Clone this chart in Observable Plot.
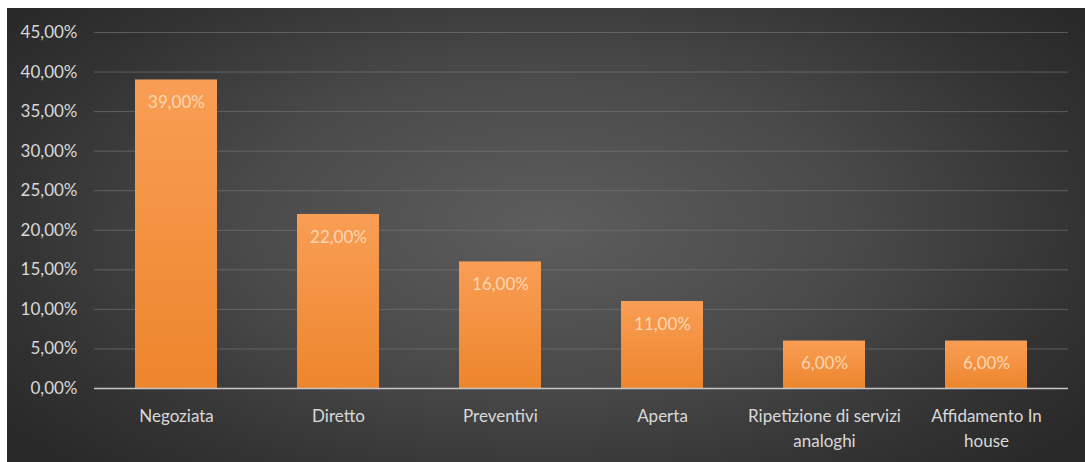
<!DOCTYPE html>
<html>
<head>
<meta charset="utf-8">
<script src="https://cdn.jsdelivr.net/npm/d3@7"></script>
<script src="https://cdn.jsdelivr.net/npm/@observablehq/plot@0.6"></script>
<style>
  html, body { margin: 0; padding: 0; background: #ffffff; }
  #frame {
    position: absolute; left: 7px; top: 8px; width: 1078px; height: 454px;
    background: radial-gradient(ellipse 62% 75% at 50% 48%, #5d5d5d 0%, #4a4a4a 45%, #333333 80%, #292929 100%);
    overflow: hidden;
  }
  #frame svg { background: transparent; }
</style>
</head>
<body>
<div id="frame"></div>
<script>
const categories = ["Negoziata", "Diretto", "Preventivi", "Aperta", "Ripetizione di servizi analoghi", "Affidamento In house"];
const values = [39, 22, 16, 11, 6, 6];
const tickLabels = ["Negoziata", "Diretto", "Preventivi", "Aperta", "Ripetizione di servizi\nanaloghi", "Affidamento In\nhouse"];
const yTicks = [0, 5, 10, 15, 20, 25, 30, 35, 40, 45];

const data = categories.map((c, i) => ({category: c, value: values[i], label: tickLabels[i]}));
const fmt = v => v.toFixed(2).replace(".", ",") + "%";

const chart = Plot.plot({
  width: 1078,
  height: 454,
  marginTop: 24,
  marginBottom: 74,
  marginLeft: 87,
  marginRight: 17,
  style: {fontFamily: "Lato, 'Open Sans', sans-serif", fontSize: "17px", color: "#d9d9d9", background: "transparent"},
  x: {domain: categories, paddingInner: 0.495, paddingOuter: 0.2475, label: null},
  y: {domain: [0, 45], label: null},
  marks: [
    Plot.gridY(yTicks, {stroke: "#7a7a7a", strokeOpacity: 0.6, strokeWidth: 1}),
    Plot.barY(data, {x: "category", y: "value", fill: "url(#barGrad)", style: "filter: drop-shadow(-2px 1px 2px rgba(0,0,0,0.55))"}),
    Plot.ruleY([0], {stroke: "#c6c6c6", strokeWidth: 1.5}),
    Plot.text(data, {x: "category", y: "value", text: d => fmt(d.value), dy: 23, fill: "#fde2c8", fillOpacity: 0.85, fontSize: 17}),
    Plot.axisY(yTicks, {tickSize: 0, tickPadding: 17, tickFormat: fmt, fill: "#d9d9d9", fontSize: 17, label: null}),
    Plot.axisX({tickSize: 0, tickPadding: 16, tickFormat: d => tickLabels[categories.indexOf(d)], fill: "#d9d9d9", fontSize: 17, lineHeight: 1.45, label: null})
  ]
});

const ns = "http://www.w3.org/2000/svg";
const defs = document.createElementNS(ns, "defs");
defs.innerHTML = '<linearGradient id="barGrad" x1="0" y1="0" x2="0" y2="1"><stop offset="0%" stop-color="#f99e55"/><stop offset="100%" stop-color="#ed852c"/></linearGradient>';
chart.insertBefore(defs, chart.firstChild);
document.getElementById("frame").appendChild(chart);
</script>
</body>
</html>
